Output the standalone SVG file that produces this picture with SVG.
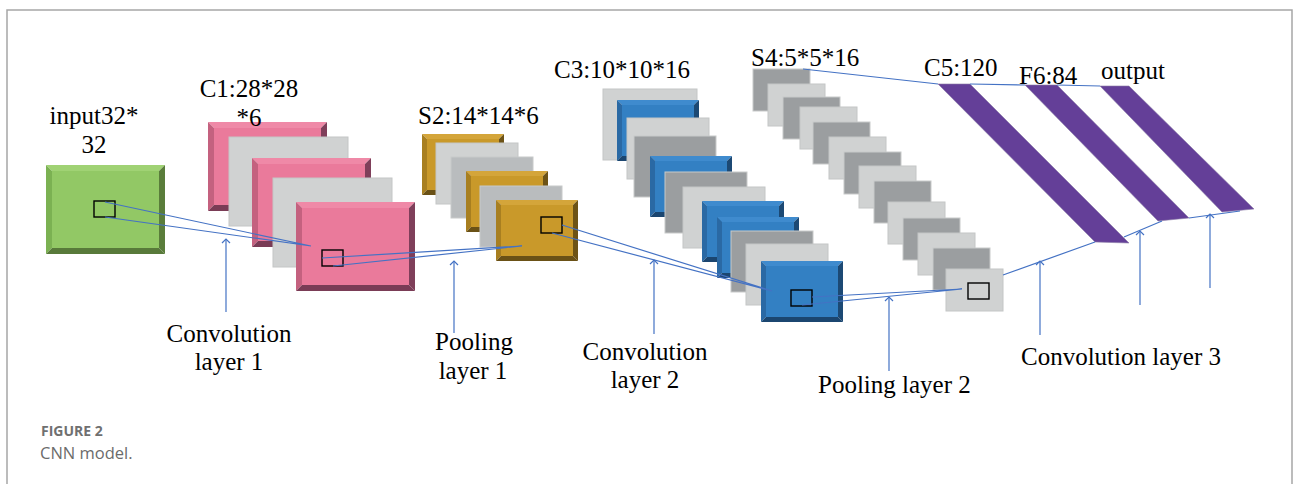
<svg xmlns="http://www.w3.org/2000/svg" xmlns:xlink="http://www.w3.org/1999/xlink" width="1293" height="484" viewBox="0 0 1293 484">
<style>
.lbl{font-family:"Liberation Serif","Times New Roman",serif;font-size:25px;fill:#000}
.lc{text-anchor:middle}
.lg{fill:#d0d2d2;stroke:#c4c6c6;stroke-width:1}
.mg{fill:#b9bcbe;stroke:#c8caca;stroke-width:1}
.dg{fill:#9b9ea0;stroke:#c8caca;stroke-width:1}
.win{fill:none;stroke:#000;stroke-width:1.4}
.con{fill:none;stroke:#4472c4;stroke-width:1.2}
.arr{fill:none;stroke:#4472c4;stroke-width:1.2;marker-end:url(#arr)}
.strip{fill:#643f98;stroke:#8a7aa6;stroke-width:0.6}
.frame{fill:none;stroke:#a6a6a6;stroke-width:1.5}
.cap1{font-family:"Open Sans","Noto Sans",sans-serif;font-size:14px;font-weight:700;fill:#707070}
.cap2{font-family:"Open Sans","Noto Sans",sans-serif;font-size:16.5px;fill:#6b6b6b}
</style>
<defs>
<marker id="arr" viewBox="0 0 10 10" refX="9" refY="5" markerWidth="10" markerHeight="10" markerUnits="userSpaceOnUse" orient="auto">
<path d="M5,1 L9,5 L5,9" fill="none" stroke="#4472c4" stroke-width="1.2"/>
</marker>
<g id="green">
<rect x="6" y="6" width="107" height="77" fill="#92c865"/>
<polygon points="0,0 119,0 113,6 6,6" fill="#a0d274"/>
<polygon points="0,0 6,6 6,83 0,89" fill="#7bb152"/>
<polygon points="119,0 119,89 113,83 113,6" fill="#5a7d3b"/>
<polygon points="0,89 119,89 113,83 6,83" fill="#587a3a"/>
</g>
<g id="pink">
<rect x="6" y="6" width="107" height="77" fill="#ea7a9b"/>
<polygon points="0,0 119,0 113,6 6,6" fill="#ef89a7"/>
<polygon points="0,0 6,6 6,83 0,89" fill="#c4617f"/>
<polygon points="119,0 119,89 113,83 113,6" fill="#7f3f5a"/>
<polygon points="0,89 119,89 113,83 6,83" fill="#7a3c56"/>
</g>
<g id="gold">
<rect x="5" y="5" width="72" height="51" fill="#c9992a"/>
<polygon points="0,0 82,0 77,5 5,5" fill="#d4a53a"/>
<polygon points="0,0 5,5 5,56 0,61" fill="#a87f20"/>
<polygon points="82,0 82,61 77,56 77,5" fill="#6d5316"/>
<polygon points="0,61 82,61 77,56 5,56" fill="#6a5116"/>
</g>
<g id="blue">
<rect x="5" y="5" width="72" height="51" fill="#3380c3"/>
<polygon points="0,0 82,0 77,5 5,5" fill="#3f8bce"/>
<polygon points="0,0 5,5 5,56 0,61" fill="#2a69a4"/>
<polygon points="82,0 82,61 77,56 77,5" fill="#1c4974"/>
<polygon points="0,61 82,61 77,56 5,56" fill="#1b4670"/>
</g>
</defs>
<rect width="1293" height="484" fill="#fff"/>
<path class="frame" d="M7,484 V10 H1292 V484"/>

<g id="input">
<use xlink:href="#green" x="46" y="165"/>
<rect class="win" x="94" y="201" width="21" height="16"/>
<text class="lbl lc" x="94" y="124">input32*</text>
<text class="lbl lc" x="94" y="153">32</text>
</g>

<g id="c1">
<use xlink:href="#pink" x="208" y="122"/>
<rect class="lg" x="229" y="137" width="119" height="89"/>
<use xlink:href="#pink" x="252" y="158"/>
<rect class="lg" x="273" y="178" width="119" height="89"/>
<use xlink:href="#pink" x="296" y="202"/>
<rect class="win" x="322" y="250" width="21" height="16"/>
<text class="lbl lc" x="249" y="97">C1:28*28</text>
<text class="lbl lc" x="249" y="126">*6</text>
</g>

<g id="s2">
<use xlink:href="#gold" x="422" y="134"/>
<rect class="lg" x="436" y="143" width="82" height="61"/>
<rect class="mg" x="451" y="157" width="82" height="61"/>
<use xlink:href="#gold" x="466" y="171"/>
<rect class="mg" x="480" y="186" width="82" height="61"/>
<use xlink:href="#gold" x="496" y="200"/>
<rect class="win" x="541" y="217" width="21" height="16"/>
<text class="lbl" x="418" y="124">S2:14*14*6</text>
</g>

<g id="c3">
<rect class="lg" x="603" y="89" width="94" height="71"/>
<use xlink:href="#blue" x="617" y="100"/>
<rect class="lg" x="627" y="118" width="82" height="61"/>
<rect class="dg" x="634" y="136" width="82" height="61"/>
<use xlink:href="#blue" x="650" y="156"/>
<rect class="dg" x="665" y="172" width="82" height="61"/>
<rect class="lg" x="683" y="187" width="82" height="61"/>
<use xlink:href="#blue" x="702" y="201"/>
<use xlink:href="#blue" x="717" y="217"/>
<rect class="dg" x="731" y="231" width="82" height="61"/>
<rect class="lg" x="746" y="244" width="82" height="61"/>
<use xlink:href="#blue" x="761" y="261"/>
<rect class="win" x="791" y="290" width="21" height="16"/>
<text class="lbl" x="554" y="78">C3:10*10*16</text>
</g>

<g id="s4">
<rect class="dg" x="753" y="69" width="57" height="42"/>
<rect class="lg" x="768" y="84" width="57" height="42"/>
<rect class="dg" x="783" y="97" width="57" height="42"/>
<rect class="lg" x="800" y="107" width="57" height="42"/>
<rect class="dg" x="813" y="122" width="57" height="42"/>
<rect class="lg" x="829" y="137" width="57" height="42"/>
<rect class="dg" x="844" y="152" width="57" height="42"/>
<rect class="lg" x="859" y="166" width="57" height="42"/>
<rect class="dg" x="874" y="181" width="57" height="42"/>
<rect class="lg" x="888" y="202" width="57" height="42"/>
<rect class="dg" x="903" y="218" width="57" height="42"/>
<rect class="lg" x="918" y="233" width="57" height="42"/>
<rect class="dg" x="933" y="248" width="57" height="42"/>
<rect class="lg" x="946" y="269" width="57" height="42"/>
<rect class="win" x="968" y="283" width="21" height="16"/>
<text class="lbl" x="751" y="66">S4:5*5*16</text>
</g>

<g id="c5">
<polygon class="strip" points="938,84 970,84 1129,243 1095,242"/>
<text class="lbl" x="924" y="76">C5:120</text>
</g>
<g id="f6">
<polygon class="strip" points="1025,85 1057,85 1189,218 1158,221"/>
<text class="lbl" x="1019" y="84">F6:84</text>
</g>
<g id="output">
<polygon class="strip" points="1100,86 1129,86 1254,209 1222,212"/>
<text class="lbl" x="1101" y="79">output</text>
</g>

<g id="connectors">
<path class="con" d="M105,202 L311,246 M105,217 L311,246"/>
<path class="con" d="M322,258 L522,246 M333,266 L522,246"/>
<path class="con" d="M562,225 L772,291 M552,233 L772,291"/>
<path class="con" d="M812,297 L962,289 M802,305 L962,289"/>
<path class="con" d="M803,69 L938,84 M970,84 L1025,85 M1057,85 L1100,86"/>
<path class="con" d="M1003,275 L1095,242 M1124,237 L1162,221 M1189,218 L1240,211"/>
<path class="arr" d="M226,312 V239"/>
<path class="arr" d="M454,333 V261"/>
<path class="arr" d="M654,334 V260"/>
<path class="arr" d="M889,371 V297"/>
<path class="arr" d="M1040,335 V261"/>
<path class="arr" d="M1140,305 V231"/>
<path class="arr" d="M1210,288 V214"/>
</g>

<g id="labels">
<text class="lbl lc" x="229" y="342">Convolution</text>
<text class="lbl lc" x="229" y="370">layer 1</text>
<text class="lbl lc" x="474" y="350">Pooling</text>
<text class="lbl lc" x="473" y="379">layer 1</text>
<text class="lbl lc" x="645" y="360">Convolution</text>
<text class="lbl lc" x="645" y="388">layer 2</text>
<text class="lbl" x="818" y="393">Pooling layer 2</text>
<text class="lbl" x="1021" y="365">Convolution layer 3</text>
</g>

<g id="caption">
<text class="cap1" x="41" y="436">FIGURE 2</text>
<text class="cap2" x="40" y="459">CNN model.</text>
</g>
</svg>
